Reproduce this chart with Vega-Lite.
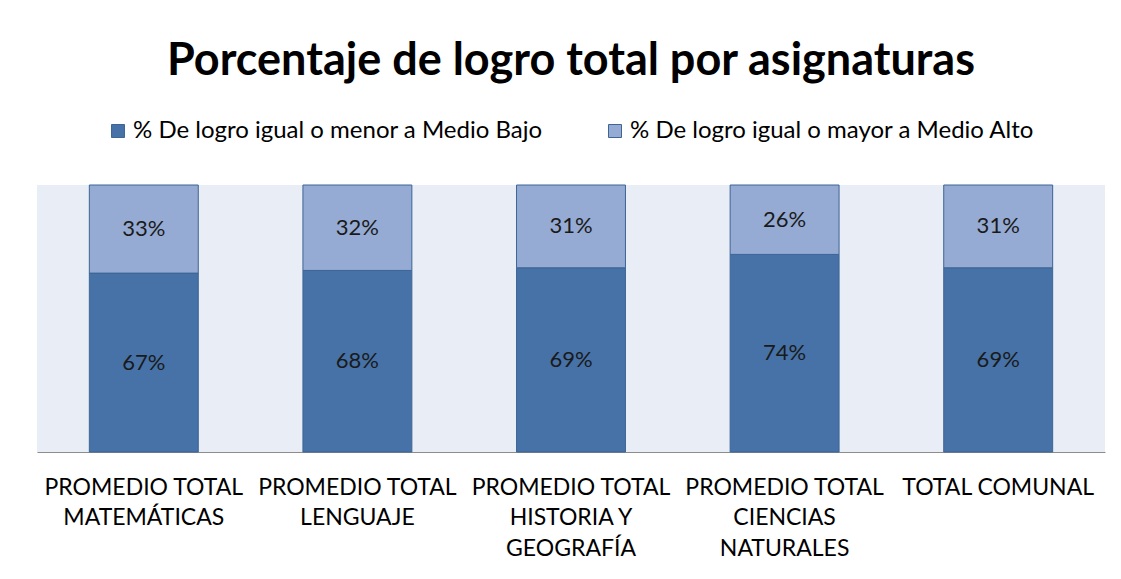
{
  "$schema": "https://vega.github.io/schema/vega-lite/v6.json",
  "width": 1068,
  "height": 267,
  "autosize": {"type": "none"},
  "padding": {"left": 37, "top": 185, "right": 16, "bottom": 127},
  "background": "white",
  "title": {
    "text": "Porcentaje de logro total por asignaturas",
    "font": "Lato",
    "fontSize": 45,
    "fontWeight": "bold",
    "color": "#000000",
    "anchor": "middle",
    "align": "center",
    "baseline": "alphabetic",
    "frame": "group",
    "orient": "none",
    "dx": 534,
    "dy": -110
  },
  "data": {
    "values": [
      {"asignatura": "PROMEDIO TOTAL|MATEMÁTICAS", "serie": "% De logro igual o menor a Medio Bajo", "valor": 0.67},
      {"asignatura": "PROMEDIO TOTAL|MATEMÁTICAS", "serie": "% De logro igual o mayor a Medio Alto", "valor": 0.33},
      {"asignatura": "PROMEDIO TOTAL|LENGUAJE", "serie": "% De logro igual o menor a Medio Bajo", "valor": 0.68},
      {"asignatura": "PROMEDIO TOTAL|LENGUAJE", "serie": "% De logro igual o mayor a Medio Alto", "valor": 0.32},
      {"asignatura": "PROMEDIO TOTAL|HISTORIA Y|GEOGRAFÍA", "serie": "% De logro igual o menor a Medio Bajo", "valor": 0.69},
      {"asignatura": "PROMEDIO TOTAL|HISTORIA Y|GEOGRAFÍA", "serie": "% De logro igual o mayor a Medio Alto", "valor": 0.31},
      {"asignatura": "PROMEDIO TOTAL|CIENCIAS|NATURALES", "serie": "% De logro igual o menor a Medio Bajo", "valor": 0.74},
      {"asignatura": "PROMEDIO TOTAL|CIENCIAS|NATURALES", "serie": "% De logro igual o mayor a Medio Alto", "valor": 0.26},
      {"asignatura": "TOTAL COMUNAL", "serie": "% De logro igual o menor a Medio Bajo", "valor": 0.69},
      {"asignatura": "TOTAL COMUNAL", "serie": "% De logro igual o mayor a Medio Alto", "valor": 0.31}
    ]
  },
  "transform": [
    {"stack": "valor", "groupby": ["asignatura"], "sort": [{"field": "serie", "order": "descending"}], "as": ["y0", "y1"]},
    {"calculate": "(datum.y0 + datum.y1) / 2", "as": "ymid"}
  ],
  "encoding": {
    "x": {
      "field": "asignatura",
      "type": "nominal",
      "sort": null,
      "scale": {"paddingInner": 0.49, "paddingOuter": 0.245},
      "axis": {
        "title": null,
        "labelAngle": 0,
        "labelExpr": "split(datum.label, '|')",
        "labelFont": "Lato",
        "labelFontSize": 23,
        "labelColor": "#000000",
        "labelLineHeight": 30.5,
        "labelBaseline": "top",
        "labelPadding": 24,
        "labelLimit": 0,
        "ticks": false,
        "domainColor": "#8c8c8c",
        "domainWidth": 1.2,
        "grid": false
      }
    }
  },
  "layer": [
    {
      "mark": {"type": "bar", "stroke": "#3d6595", "strokeWidth": 1},
      "encoding": {
        "y": {"field": "y0", "type": "quantitative", "scale": {"domain": [0, 1], "nice": false}, "axis": null},
        "y2": {"field": "y1"},
        "color": {
          "field": "serie",
          "type": "nominal",
          "scale": {
            "domain": ["% De logro igual o menor a Medio Bajo", "% De logro igual o mayor a Medio Alto"],
            "range": ["#4672a8", "#95abd3"]
          },
          "legend": {
            "title": null,
            "orient": "none",
            "direction": "horizontal",
            "legendX": 69,
            "legendY": -66,
            "symbolType": "square",
            "symbolSize": 169,
            "symbolStrokeColor": "#3d6595",
            "symbolStrokeWidth": 1,
            "labelFont": "Lato",
            "labelFontSize": 24,
            "labelColor": "#000000",
            "labelOffset": 3,
            "labelLimit": 0,
            "columnPadding": 60
          }
        }
      }
    },
    {
      "mark": {"type": "text", "font": "Lato", "fontSize": 22, "color": "#1a1a1a", "baseline": "middle"},
      "encoding": {
        "y": {"field": "ymid", "type": "quantitative"},
        "text": {"field": "valor", "type": "quantitative", "format": ".0%"}
      }
    }
  ],
  "config": {
    "view": {"fill": "#e9edf5", "stroke": null}
  }
}
